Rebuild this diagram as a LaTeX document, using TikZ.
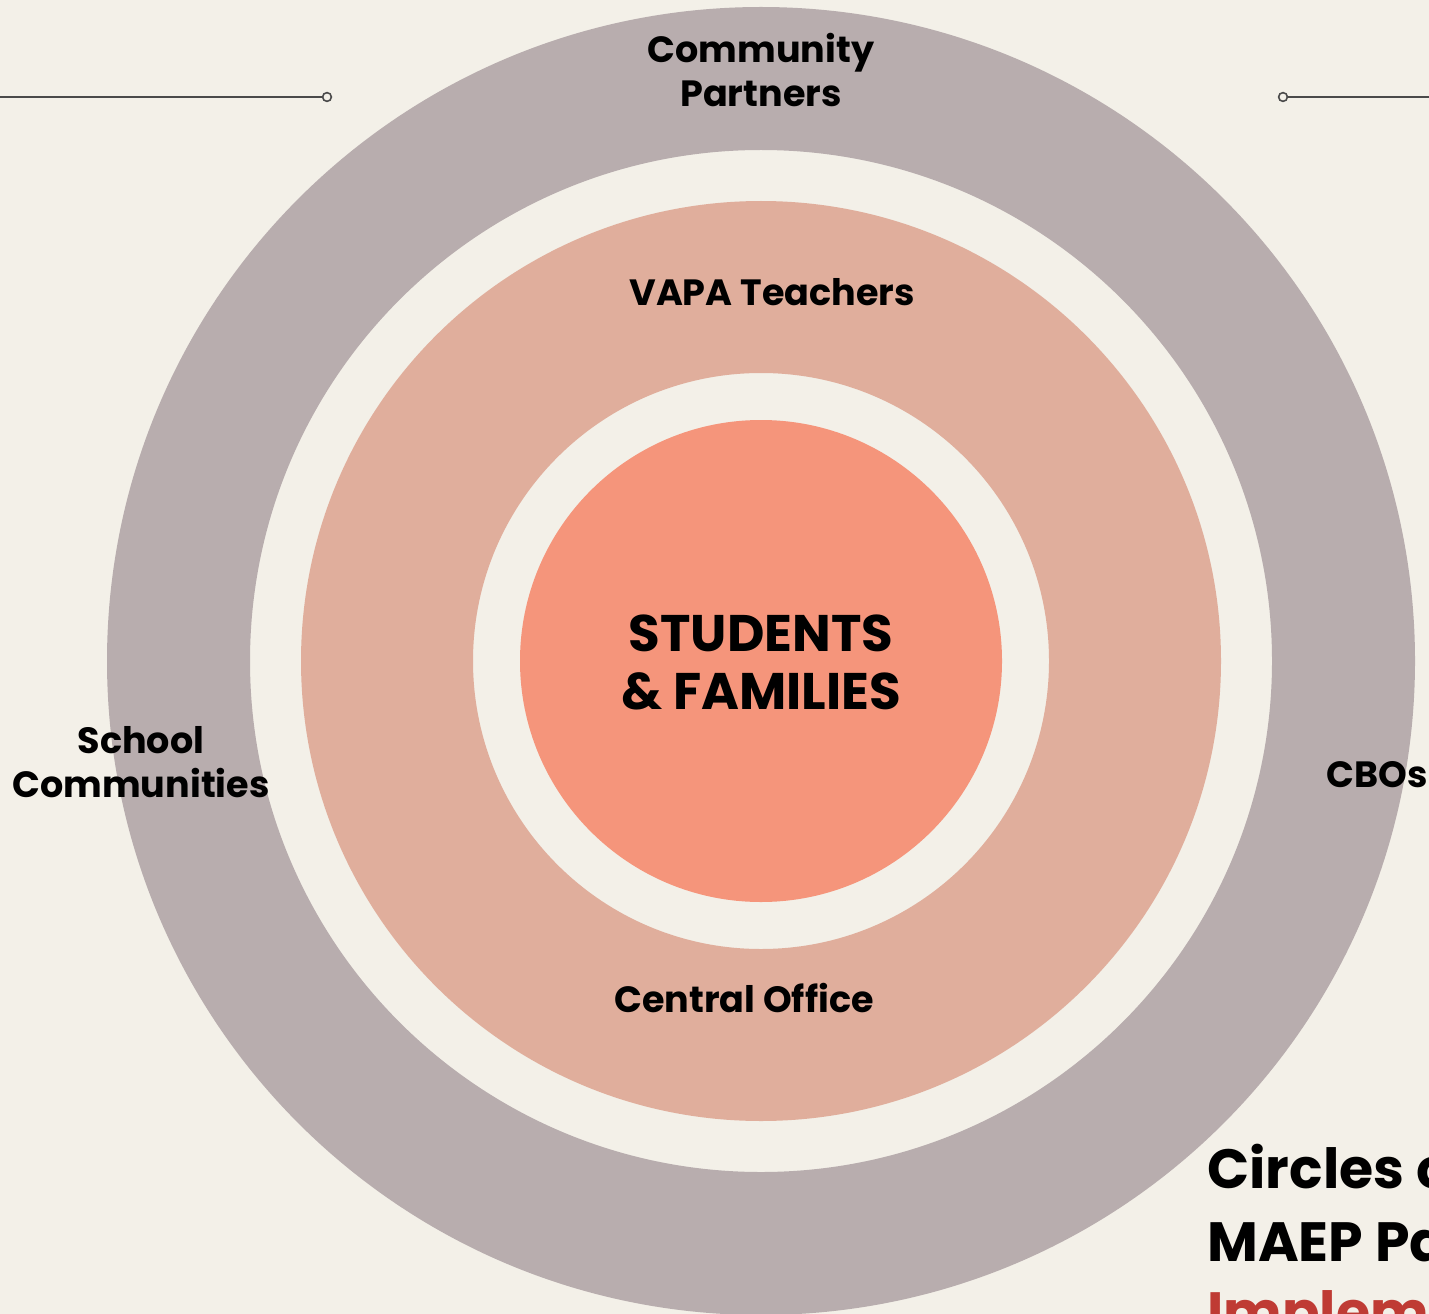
\documentclass[tikz,border=0pt]{standalone}
\usepackage{fontspec}
\setmainfont{Poppins}
\definecolor{paper}{HTML}{F3F0E8}
\definecolor{outerring}{HTML}{B8ADAE}
\definecolor{midring}{HTML}{E0AE9C}
\definecolor{core}{HTML}{F5957B}
\definecolor{titlered}{HTML}{BF3B34}
\definecolor{rule}{HTML}{4A4A4A}
\tikzset{
  ringtext/.style={align=center, font=\bfseries\fontsize{20.8}{25}\selectfont, text=black, inner sep=0pt},
  coretext/.style={align=center, font=\bfseries\fontsize{29.3}{33}\selectfont, text=black, inner sep=0pt},
  titletext/.style={anchor=west, font=\bfseries\fontsize{31.5}{40}\selectfont, inner sep=0pt},
  dot/.style={shape=circle, draw=rule, fill=paper, line width=0.9pt, minimum size=5pt, inner sep=0pt},
}
\begin{document}
\begin{tikzpicture}[x=0.02cm, y=-0.02cm]
\useasboundingbox (0,0) rectangle (1429,1314);
\clip (0,0) rectangle (1429,1314);
\fill[paper] (0,0) rectangle (1429,1314);
% rings
\fill[outerring, even odd rule] (761,661) circle (654) (761,661) circle (511);
\fill[midring, even odd rule] (761,661) circle (460) (761,661) circle (288);
\fill[core] (761,661) circle (241);
% side rules
\coordinate (lend) at (0,97);
\node[dot] (ldot) at (327,97) {};
\coordinate (rend) at (1429,97);
\node[dot] (rdot) at (1283,97) {};
\draw[rule, line width=1.2pt] (lend) -- (ldot);
\draw[rule, line width=1.2pt] (rdot) -- (rend);
% labels
\node[ringtext] (partners) at (761,70) {Community\\Partners};
\node[ringtext] (vapa) at (772,292) {VAPA Teachers};
\node[coretext] (students) at (761,662) {STUDENTS\\\& FAMILIES};
\node[ringtext] (office) at (744,998) {Central Office};
\node[ringtext] (schools) at (141,762) {School\\Communities};
\node[ringtext, anchor=west] (cbos) at (1326,775) {CBOs};
\node[titletext] (title1) at (1207,1167) {Circles of};
\node[titletext] (title2) at (1207,1242) {MAEP Partners};
\node[titletext, text=titlered] (title3) at (1207,1317) {Implementation};
\end{tikzpicture}
\end{document}
